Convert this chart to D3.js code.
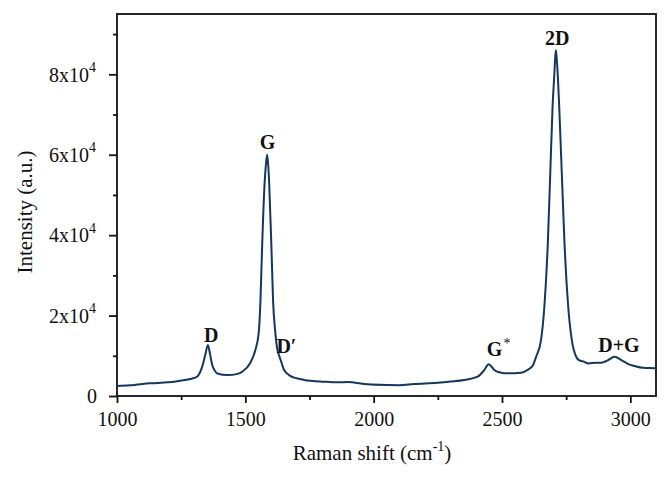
<!DOCTYPE html>
<html>
<head>
<meta charset="utf-8">
<script src="https://cdn.jsdelivr.net/npm/d3@7"></script>
<style>
  body { margin: 0; background: #fff; }
  svg { display: block; }
  svg text { font-family: "Liberation Serif", "DejaVu Serif", serif; }
</style>
</head>
<body>
<div id="chart"></div>
<script>
// Raman spectrum, values
const ramanShift = [
  1000, 1050, 1130, 1200, 1247, 1290, 1312, 1332, 1345, 1354, 1362, 1371, 1382, 1391,
  1430, 1470, 1487, 1519, 1539, 1552, 1559, 1565, 1575, 1580, 1585, 1589, 1593, 1602,
  1608, 1617, 1625, 1632, 1640, 1650, 1675, 1700, 1729, 1807, 1860, 1898, 1977, 2055,
  2100, 2157, 2249, 2300, 2353, 2405, 2431, 2448, 2458, 2470, 2490, 2509, 2574, 2600,
  2620, 2633, 2652, 2665, 2679, 2688, 2697, 2704, 2707, 2710, 2713, 2717, 2723, 2733,
  2743, 2758, 2772, 2789, 2800, 2821, 2835, 2867, 2887, 2910, 2939, 2965, 2990, 3017,
  3050, 3095, 3100
];
const intensity = [
  2500, 2650, 3150, 3400, 3800, 4300, 4800, 7300, 10500, 12700, 10600, 7700, 6200, 5600,
  5200, 5500, 6000, 8200, 11430, 15650, 23850, 36270, 52850, 57500, 60000, 57500, 52850, 36270,
  23850, 15650, 11500, 10000, 8500, 6600, 5000, 4400, 4000, 3560, 3400, 3500, 2900, 2730,
  2700, 3000, 3300, 3600, 4000, 4800, 6460, 7870, 7400, 6460, 5900, 5640, 5800, 6500,
  7600, 9760, 13900, 22190, 38760, 55330, 71880, 80170, 84000, 86000, 84000, 80170, 71880, 55330,
  38760, 22190, 13900, 9760, 8900, 8500, 8100, 8300, 8300, 8800, 9760, 8940, 8000, 7450,
  7000, 6880, 6800
];

const xTicks = [1000, 1500, 2000, 2500, 3000];
const xMinorTicks = [1250, 1750, 2250, 2750];
const yTicks = [0, 20000, 40000, 60000, 80000];
const yMinorTicks = [10000, 30000, 50000, 70000, 90000];

// peak annotations: label text, superscript part, anchor in data units
const peakNames = ["2D", "G", "D", "D\u2032", "G", "D+G"];
const peakSups = ["", "", "", "", "*", ""];
const peakShift = [2715, 1586, 1367, 1621, 2441, 2875];
const peakHeight = [87300, 61400, 13400, 10700, 9950, 10900];
const peakAnchor = ["middle", "middle", "middle", "start", "start", "start"];

const FONT = "Liberation Serif";
const width = 671, height = 477;
const margin = { top: 14, right: 15, bottom: 81, left: 117 };
const innerWidth = width - margin.left - margin.right;
const innerHeight = height - margin.top - margin.bottom;

const svg = d3.select("#chart").append("svg")
  .attr("width", width)
  .attr("height", height)
  .attr("font-family", FONT);

const g = svg.append("g")
  .attr("transform", `translate(${margin.left},${margin.top})`);

const x = d3.scaleLinear().domain([1000, 3100]).range([0, innerWidth]);
const y = d3.scaleLinear().domain([0, 95000]).range([innerHeight, 0]);

// minor ticks (no labels)
g.append("g")
  .attr("transform", `translate(0,${innerHeight})`)
  .call(d3.axisBottom(x).tickValues(xMinorTicks).tickSize(4).tickFormat(""))
  .call(a => a.select(".domain").remove())
  .call(a => a.selectAll("text").remove())
  .call(a => a.selectAll("line").attr("stroke", "#111").attr("stroke-width", 1.8));

g.append("g")
  .call(d3.axisLeft(y).tickValues(yMinorTicks).tickSize(4).tickFormat(""))
  .call(a => a.select(".domain").remove())
  .call(a => a.selectAll("text").remove())
  .call(a => a.selectAll("line").attr("stroke", "#111").attr("stroke-width", 1.8));

// major ticks + labels
const xAxis = g.append("g")
  .attr("transform", `translate(0,${innerHeight})`)
  .call(d3.axisBottom(x).tickValues(xTicks).tickSize(7).tickPadding(9).tickFormat(d3.format("d")))
  .attr("font-family", FONT)
  .attr("font-size", 20);
xAxis.select(".domain").remove();
xAxis.selectAll("line").attr("stroke", "#111").attr("stroke-width", 1.8);
xAxis.selectAll("text").attr("fill", "#111");

const yAxis = g.append("g")
  .call(d3.axisLeft(y).tickValues(yTicks).tickSize(8).tickPadding(12).tickFormat(""))
  .attr("font-family", FONT)
  .attr("font-size", 20);
yAxis.select(".domain").remove();
yAxis.selectAll("line").attr("stroke", "#111").attr("stroke-width", 1.8);
yAxis.selectAll(".tick text").remove();

// y tick labels as "Nx10" with a separate superscript "4"
yAxis.selectAll(".tick").each(function(d) {
  const tick = d3.select(this);
  if (d === 0) {
    tick.append("text")
      .attr("x", -20).attr("dy", "0.34em")
      .attr("text-anchor", "end")
      .attr("fill", "#111")
      .style("font-size", "20px")
      .text("0");
    return;
  }
  tick.append("text")
    .attr("x", -28).attr("dy", "0.34em")
    .attr("text-anchor", "end")
    .attr("fill", "#111")
    .style("font-size", "20px")
    .text(`${d / 10000}x10`);
  tick.append("text")
    .attr("x", -28).attr("y", -3)
    .attr("text-anchor", "start")
    .attr("fill", "#111")
    .style("font-size", "14px")
    .text("4");
});

// frame
g.append("rect")
  .attr("x", 0).attr("y", 0)
  .attr("width", innerWidth).attr("height", innerHeight)
  .attr("fill", "none")
  .attr("stroke", "#111")
  .attr("stroke-width", 1.8);

// spectrum
const line = d3.line()
  .x((d, i) => x(ramanShift[i]))
  .y(d => y(d))
  .curve(d3.curveMonotoneX);

g.append("path")
  .datum(intensity)
  .attr("d", line)
  .attr("fill", "none")
  .attr("stroke", "#14375e")
  .attr("stroke-width", 2)
  .attr("stroke-linejoin", "round");

// peak labels
peakNames.forEach((name, i) => {
  const t = g.append("text")
    .attr("x", x(peakShift[i]))
    .attr("y", y(peakHeight[i]))
    .attr("text-anchor", peakAnchor[i])
    .attr("fill", "#111")
    .style("font-size", "20px")
    .style("font-weight", "bold")
    .text(name);
  if (peakSups[i]) {
    const w = t.node().getComputedTextLength();
    g.append("text")
      .attr("x", x(peakShift[i]) + w + 1)
      .attr("y", y(peakHeight[i]) - 8)
      .attr("fill", "#111")
      .style("font-size", "14px")
      .text(peakSups[i]);
  }
});

// axis titles
const xTitle = svg.append("g").attr("transform", "translate(0,460)");
const t1 = xTitle.append("text").attr("fill", "#111").style("font-size", "21px").text("Raman shift (cm");
const t2 = xTitle.append("text").attr("fill", "#111").style("font-size", "14px").attr("y", -9).text("-1");
const t3 = xTitle.append("text").attr("fill", "#111").style("font-size", "21px").text(")");
const w1 = t1.node().getComputedTextLength();
const w2 = t2.node().getComputedTextLength();
const w3 = t3.node().getComputedTextLength();
const x0 = 372 - (w1 + w2 + w3) / 2;
t1.attr("x", x0);
t2.attr("x", x0 + w1);
t3.attr("x", x0 + w1 + w2);

svg.append("text")
  .attr("transform", "translate(32,212) rotate(-90)")
  .attr("text-anchor", "middle")
  .attr("fill", "#111")
  .style("font-size", "21px")
  .text("Intensity (a.u.)");
</script>
</body>
</html>
